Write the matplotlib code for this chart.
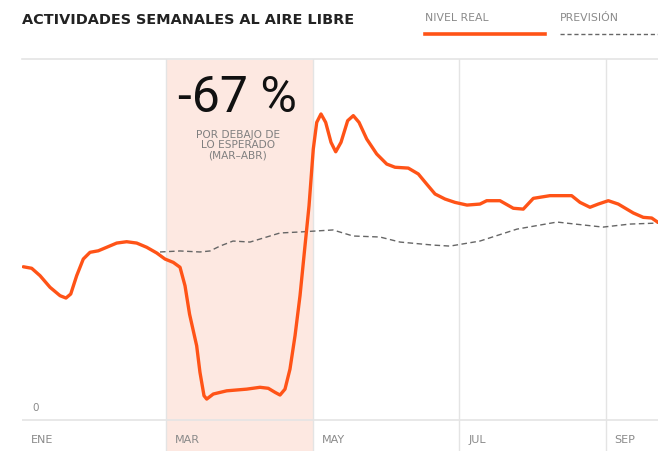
import matplotlib
matplotlib.use("Agg")
import matplotlib.pyplot as plt

# x in months since Jan 1 (0=ENE, 2=MAR, 4=MAY, 6=JUL, 8=SEP); y = activity index
real_x = [0.052, 0.166, 0.280, 0.416, 0.553, 0.634, 0.699, 0.780, 0.870, 0.962,
          1.075, 1.190, 1.326, 1.462, 1.599, 1.735, 1.872, 1.985, 2.098, 2.190,
          2.258, 2.320, 2.417, 2.462, 2.517, 2.554, 2.644, 2.827, 3.100,
          3.281, 3.394, 3.486, 3.554, 3.622, 3.690, 3.759, 3.827, 3.895, 3.950,
          4.008, 4.055, 4.113, 4.177, 4.250, 4.314, 4.386, 4.477, 4.554, 4.632,
          4.737, 4.873, 5.010, 5.123, 5.304, 5.441, 5.555, 5.669, 5.805, 5.941,
          6.105, 6.282, 6.374, 6.555, 6.737, 6.873, 7.010, 7.237, 7.533, 7.647,
          7.783, 7.896, 8.033, 8.169, 8.374, 8.510, 8.625, 8.711]
real_y = [91.2, 90.3, 85.9, 79.0, 74.0, 72.6, 75.0, 85.9, 95.8, 99.8,
          100.7, 102.8, 105.3, 106.1, 105.3, 102.8, 99.4, 95.8, 93.8, 90.9,
          79.9, 63.0, 44.2, 28.4, 14.5, 12.5, 15.5, 17.4, 18.4,
          19.5, 18.9, 16.5, 14.9, 18.4, 30.3, 50.2, 74.0, 103.7, 127.5,
          161.2, 177.1, 182.1, 177.1, 165.2, 159.6, 165.2, 178.1, 181.1, 177.1,
          167.2, 158.3, 152.3, 150.4, 149.9, 146.4, 140.4, 134.5, 131.5, 129.5,
          127.9, 128.5, 130.5, 130.5, 126.0, 125.5, 131.9, 133.5, 133.5, 129.5,
          126.6, 128.5, 130.5, 128.5, 123.2, 120.6, 120.2, 117.6]

fc_x = [1.917, 2.190, 2.462, 2.599, 2.735, 2.913, 3.145, 3.281, 3.554, 3.827,
        4.277, 4.550, 4.918, 5.191, 5.641, 5.873, 6.282, 6.787, 7.333, 7.579,
        7.960, 8.329, 8.711]
fc_y = [100.0, 100.6, 100.0, 100.6, 103.5, 106.5, 105.9, 107.7, 111.3, 111.9,
        113.1, 109.5, 108.9, 105.9, 104.1, 103.5, 106.5, 113.6, 117.8, 116.6,
        114.8, 116.6, 117.2]

month_pos = [0, 2, 4, 6, 8]
month_labels = ["ENE", "MAR", "MAY", "JUL", "SEP"]
shade_start, shade_end = 2, 4

ORANGE = "#ff5317"
GREY_TXT = "#8a8a8a"
GRID = "#e4e4e4"

fig = plt.figure(figsize=(6.58, 4.52), dpi=100)
ax = fig.add_axes([22/658, 0, 1 - 22/658, 392/452])
x0, x1 = 0.034, 8.711
ax.set_xlim(x0, x1)
ax.set_ylim(-18.4, 214.8)
for s in ax.spines.values():
    s.set_visible(False)
ax.set_xticks([])
ax.set_yticks([])

ax.axvspan(shade_start, shade_end, ymin=0, ymax=0.997, color="#fde8e1", zorder=0, lw=0)
for m in month_pos[1:]:
    ax.axvline(m, color=GRID, lw=1, zorder=1)
ax.axhline(0, color=GRID, lw=1.2, zorder=1)
ax.axhline(214.8, color=GRID, lw=1.2, zorder=1, clip_on=False)

ax.plot(fc_x, fc_y, color="#666666", lw=1.0, dashes=(4, 2.5), zorder=3)
ax.plot(real_x, real_y, color=ORANGE, lw=2.4, zorder=4, solid_joinstyle="round",
        solid_capstyle="round")

for m, lab in zip(month_pos, month_labels):
    ax.text(max(m, x0) + 0.12, -11.5, lab, fontsize=8, color=GREY_TXT,
            ha="left", va="center")
ax.text(0.17, 7.7, "0", fontsize=7.5, color=GREY_TXT, ha="left", va="center")

ax.text(2.98, 192, "-67 %", fontsize=36, color="#111111", ha="center", va="center",
        family="Roboto", fontweight="normal")
ax.text(2.98, 164, "POR DEBAJO DE\nLO ESPERADO\n(MAR–ABR)", fontsize=7.6, color="#808080",
        ha="center", va="center", linespacing=1.0)

fig.text(22/658, 1 - 20/452, "ACTIVIDADES SEMANALES AL AIRE LIBRE", fontsize=10.4,
         fontweight="bold", color="#222222", ha="left", va="center")
fig.text(425/658, 1 - 18/452, "NIVEL REAL", fontsize=7.8, color=GREY_TXT,
         ha="left", va="center")
fig.text(560/658, 1 - 18/452, "PREVISIÓN", fontsize=7.8, color=GREY_TXT,
         ha="left", va="center")
fig.add_artist(plt.Line2D([425/658, 545/658], [1 - 35/452, 1 - 35/452],
                          color=ORANGE, lw=2.6))
fig.add_artist(plt.Line2D([560/658, 1.0], [1 - 35/452, 1 - 35/452],
                          color="#666666", lw=1.0, dashes=(3, 2)))

fig.savefig("out.png", dpi=100, facecolor="white")
